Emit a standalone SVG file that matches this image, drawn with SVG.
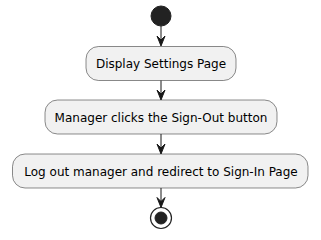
<svg xmlns="http://www.w3.org/2000/svg" width="321" height="240" viewBox="0 0 321 240">
  <style>
    .act { fill: #F1F1F1; stroke: #181818; stroke-width: 0.5; }
    .lbl { font-family: "DejaVu Sans", sans-serif; font-size: 12px; fill: #000000; text-anchor: middle; }
    .flow { stroke: #181818; stroke-width: 1; fill: none; }
    .head { fill: #181818; stroke: #181818; stroke-width: 1; }
  </style>
  <rect width="321" height="240" fill="#FFFFFF"/>

  <g id="start">
    <circle cx="161" cy="16" r="10" fill="#222222" stroke="#222222" stroke-width="1"/>
  </g>

  <g id="display-settings">
    <rect class="act" x="86" y="46.5" width="150" height="34" rx="12.5" ry="12.5"/>
    <text class="lbl" x="161" y="68">Display Settings Page</text>
  </g>

  <g id="manager-clicks">
    <rect class="act" x="45" y="100" width="232" height="34" rx="12.5" ry="12.5"/>
    <text class="lbl" x="161" y="121.5">Manager clicks the Sign-Out button</text>
  </g>

  <g id="log-out">
    <rect class="act" x="12.5" y="154" width="295.5" height="34" rx="12.5" ry="12.5"/>
    <text class="lbl" x="161" y="175.5">Log out manager and redirect to Sign-In Page</text>
  </g>

  <g id="stop">
    <circle cx="161" cy="218" r="10.5" fill="none" stroke="#222222" stroke-width="1.2"/>
    <circle cx="161" cy="218" r="6" fill="#222222" stroke="#222222" stroke-width="1"/>
  </g>

  <g id="connectors">
    <line class="flow" x1="161" y1="26" x2="161" y2="44"/>
    <polygon class="head" points="157,36 161,46 165,36 161,40"/>
    <line class="flow" x1="161" y1="80.5" x2="161" y2="98"/>
    <polygon class="head" points="157,90 161,100 165,90 161,94"/>
    <line class="flow" x1="161" y1="134" x2="161" y2="152"/>
    <polygon class="head" points="157,144 161,154 165,144 161,148"/>
    <line class="flow" x1="161" y1="188" x2="161" y2="205"/>
    <polygon class="head" points="157,197.5 161,207.5 165,197.5 161,201.5"/>
  </g>
</svg>
